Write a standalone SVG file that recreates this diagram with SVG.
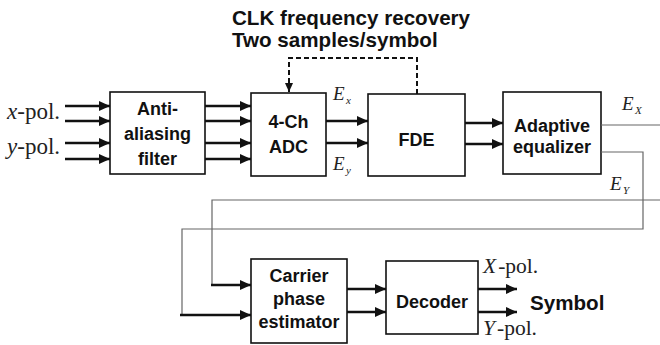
<svg xmlns="http://www.w3.org/2000/svg" width="660" height="345" viewBox="0 0 660 345">
<defs>
<marker id="ah" markerUnits="userSpaceOnUse" markerWidth="11" markerHeight="10" refX="11" refY="5" orient="auto"><path d="M0,0 L11,5 L0,10 z" fill="#111"/></marker>
<marker id="ahs" markerUnits="userSpaceOnUse" markerWidth="9" markerHeight="8" refX="9" refY="4" orient="auto"><path d="M0,0 L9,4 L0,8 z" fill="#111"/></marker>
<style>
.box{fill:#fff;stroke:#111;stroke-width:1.6}
.lbl{font-family:"Liberation Sans",Arial,sans-serif;font-weight:bold;font-size:18px;fill:#111;text-anchor:middle}
.ttl{font-family:"Liberation Sans",Arial,sans-serif;font-weight:bold;font-size:20.6px;fill:#111}
.it{font-family:"Liberation Serif","Times New Roman",serif;font-style:italic;fill:#222}
.rm{font-family:"Liberation Serif","Times New Roman",serif;fill:#222}
.arr{stroke:#111;stroke-width:2.5;fill:none;marker-end:url(#ah)}
.gry{stroke:#666;stroke-width:1.2;fill:none}
.dash{stroke:#111;stroke-width:2;fill:none;stroke-dasharray:5,3}
</style>
</defs>
<text class="ttl" x="232" y="25">CLK frequency recovery</text>
<text class="ttl" x="232" y="47">Two samples/symbol</text>
<text x="7" y="119" font-size="23"><tspan class="it">x</tspan><tspan class="rm">-pol.</tspan></text>
<text x="7" y="154" font-size="23"><tspan class="it">y</tspan><tspan class="rm">-pol.</tspan></text>
<g id="antialias"><rect class="box" x="110" y="92" width="95" height="82"/><text class="lbl" x="157.5" y="115">Anti-</text><text class="lbl" x="157.5" y="140">aliasing</text><text class="lbl" x="157.5" y="165">filter</text></g>
<g id="adc"><rect class="box" x="251" y="93" width="75" height="83"/><text class="lbl" x="288.5" y="128">4-Ch</text><text class="lbl" x="288.5" y="153">ADC</text></g>
<g id="fde"><rect class="box" x="368" y="94" width="97" height="82"/><text class="lbl" x="416.5" y="146">FDE</text></g>
<g id="equalizer"><rect class="box" x="503" y="92" width="98" height="82"/><text class="lbl" x="552" y="132">Adaptive</text><text class="lbl" x="552" y="153">equalizer</text></g>
<g id="carrier"><rect class="box" x="251" y="259" width="96" height="84"/><text class="lbl" x="299" y="282">Carrier</text><text class="lbl" x="299" y="305">phase</text><text class="lbl" x="299" y="328">estimator</text></g>
<g id="decoder"><rect class="box" x="386" y="261" width="92" height="73"/><text class="lbl" x="432" y="308">Decoder</text></g>
<text class="it" x="333" y="100" font-size="19">E</text><text class="it" x="346" y="104" font-size="11">x</text>
<text class="it" x="333" y="170" font-size="19">E</text><text class="it" x="346" y="174" font-size="11">y</text>
<text class="it" x="622" y="110" font-size="19">E</text><text class="it" x="635" y="114" font-size="11">X</text>
<text class="it" x="610" y="190" font-size="19">E</text><text class="it" x="623" y="194" font-size="11">Y</text>
<text x="483" y="273" font-size="21.5"><tspan class="it">X</tspan><tspan class="rm" dx="2">-pol.</tspan></text>
<text x="483" y="335" font-size="21.5"><tspan class="it">Y</tspan><tspan class="rm" dx="2">-pol.</tspan></text>
<text class="ttl" x="530" y="310">Symbol</text>
<g id="connectors">
<line class="arr" x1="65" y1="106" x2="110" y2="106"/>
<line class="arr" x1="65" y1="121" x2="110" y2="121"/>
<line class="arr" x1="65" y1="143" x2="110" y2="143"/>
<line class="arr" x1="65" y1="159" x2="110" y2="159"/>
<line class="arr" x1="205" y1="106" x2="251" y2="106"/>
<line class="arr" x1="205" y1="121" x2="251" y2="121"/>
<line class="arr" x1="205" y1="143" x2="251" y2="143"/>
<line class="arr" x1="205" y1="159" x2="251" y2="159"/>
<line class="arr" x1="326" y1="121" x2="368" y2="121"/>
<line class="arr" x1="326" y1="143" x2="368" y2="143"/>
<line class="arr" x1="465" y1="123" x2="503" y2="123"/>
<line class="arr" x1="465" y1="144" x2="503" y2="144"/>
<path class="dash" d="M417,94 V58 H289 V84"/>
<line x1="289" y1="84" x2="289" y2="92" stroke="#111" stroke-width="2" marker-end="url(#ahs)"/>
<path class="gry" d="M601,125 H660"/>
<path class="gry" d="M660,200 H212 V285"/>
<path class="gry" d="M601,152 H643 V229 H182 V315"/>
<line class="arr" x1="211" y1="285" x2="251" y2="285"/>
<line class="arr" x1="180" y1="315" x2="251" y2="315"/>
<line class="arr" x1="347" y1="289" x2="386" y2="289"/>
<line class="arr" x1="347" y1="312" x2="386" y2="312"/>
<line class="arr" x1="478" y1="289" x2="517" y2="289"/>
<line class="arr" x1="478" y1="312" x2="517" y2="312"/>
</g>
</svg>
